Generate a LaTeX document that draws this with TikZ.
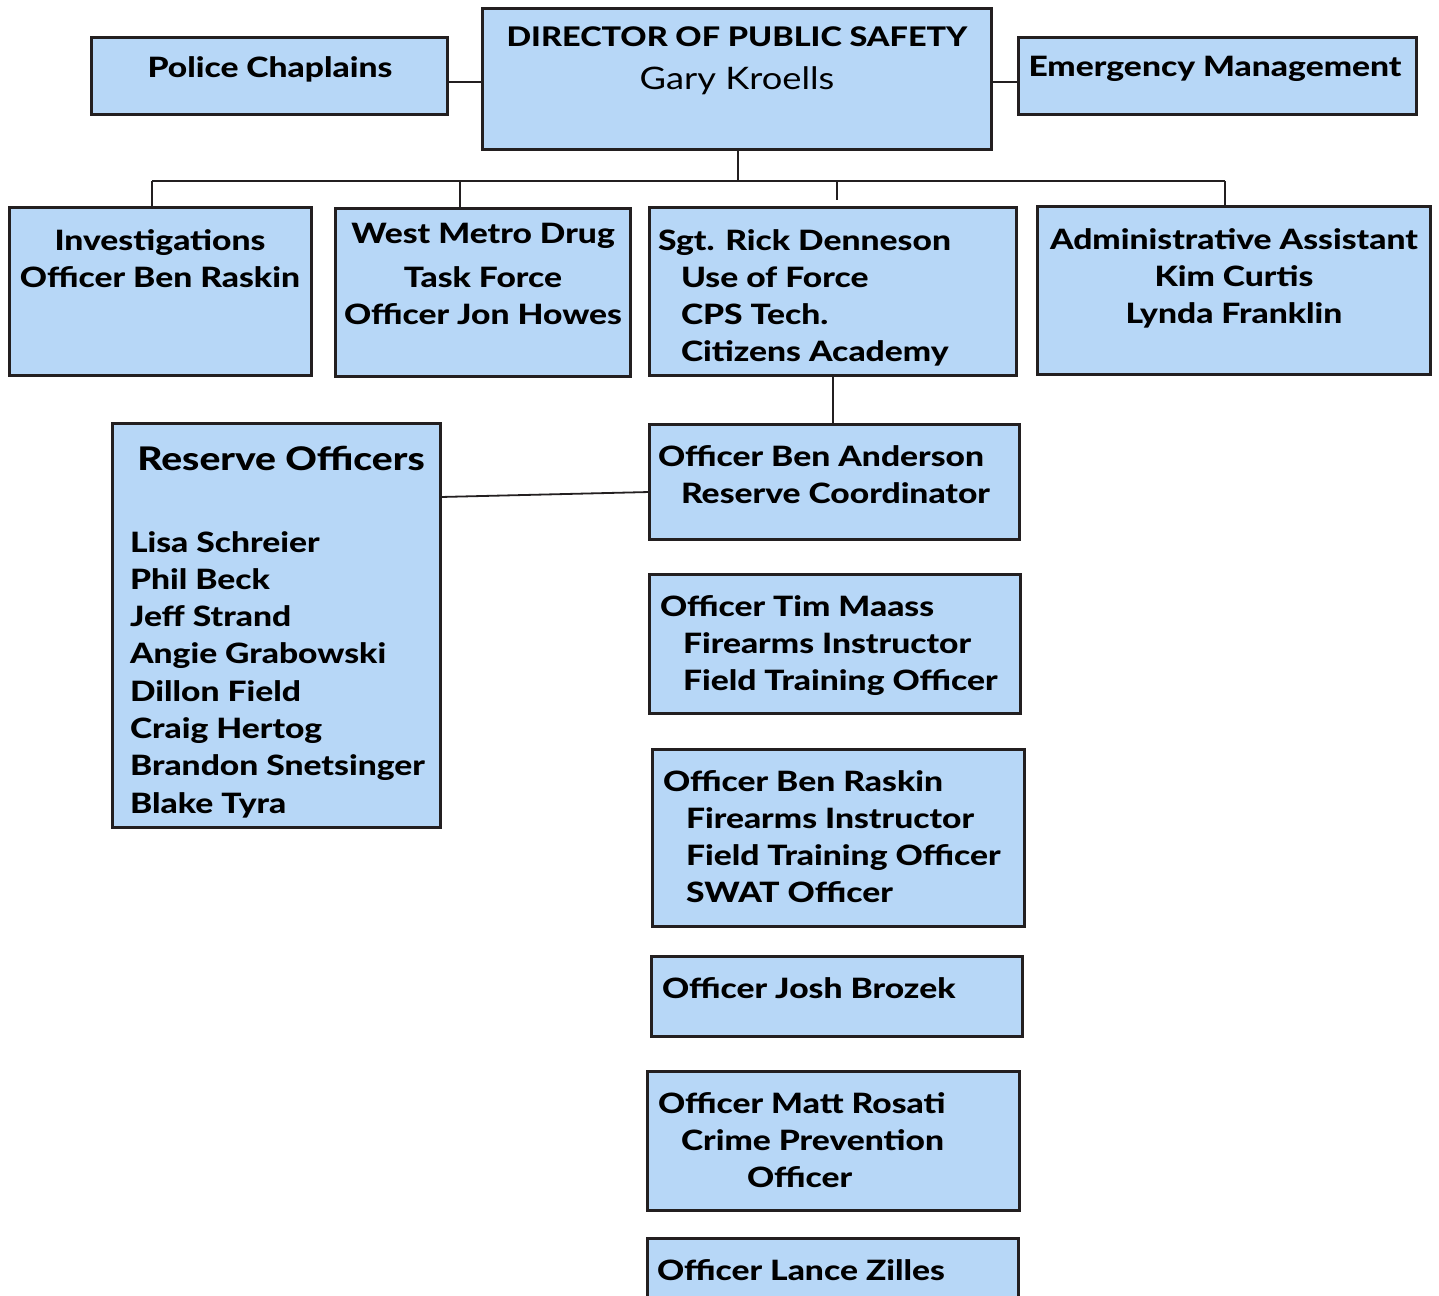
\documentclass[tikz,border=0pt]{standalone}
\usepackage{fontspec}
\setmainfont{Lato}
\IfFontExistsTF{Lato Heavy}
  {\newfontfamily\gbfam{Lato Heavy}[FakeStretch=1.2]\newcommand\gbf{\gbfam}}
  {\newfontfamily\gbfam{Lato}[FakeStretch=1.26]\newcommand\gbf{\gbfam\bfseries}}
\newfontfamily\grfam{Lato}[FakeStretch=1.17]
\definecolor{boxfill}{HTML}{B7D7F7}
\definecolor{boxline}{HTML}{231F20}
\newcommand\fl{\rule{0pt}{25pt}}
\newcommand\ind{\hspace*{23pt}}
\newcommand\orgbox[5]{\node[box, minimum width={#4-#2-3}, minimum height={#5-#3-3}] (#1) at ({(#2+#4)/2},{(#3+#5)/2}) {};}
\begin{document}
\begin{tikzpicture}[x=1pt,y=-1pt,
  box/.style={draw=boxline, line width=3pt, fill=boxfill, inner sep=0pt, outer sep=0pt},
  txt/.style={inner sep=0pt, outer sep=0pt, text=black, font=\gbf\fontsize{28}{37.3}\selectfont},
  link/.style={draw=boxline, line width=1.8pt}]
\useasboundingbox (0,0) rectangle (1439,1295);
% boxes
\orgbox{dir}{481}{7}{993}{151}
\orgbox{pc}{90}{36}{449}{116}
\orgbox{em}{1017}{36}{1418}{116}
\orgbox{inv}{8}{206}{313}{377}
\orgbox{wm}{334}{207}{632}{378}
\orgbox{sgt}{648}{206}{1018}{377}
\orgbox{adm}{1036}{205}{1432}{376}
\orgbox{res}{111}{422}{442}{829}
\orgbox{and}{648}{423}{1021}{541}
\orgbox{tim}{648}{573}{1022}{715}
\orgbox{ben}{651}{748}{1026}{928}
\orgbox{josh}{650}{955}{1024}{1038}
\orgbox{matt}{646}{1070}{1021}{1212}
\orgbox{lance}{646}{1237}{1020}{1330}
% connectors
\coordinate (bus) at (738,181);
\coordinate (busL) at (152,181);
\coordinate (busW) at (460,181);
\coordinate (busS) at (837,181);
\coordinate (busS2) at (837,200);
\coordinate (busR) at (1225,181);
\draw[link] ([yshift=-6pt]pc.east) -- ([yshift=-6pt]pc.east -| dir.west);
\draw[link] ([yshift=-6pt]em.west) -- ([yshift=-6pt]em.west -| dir.east);
\draw[link] (dir.south -| bus) -- (bus);
\draw[link] (busL) -- (busR);
\draw[link] (busL) -- (busL |- inv.north);
\draw[link] (busW) -- (busW |- wm.north);
\draw[link] (busS) -- (busS2);
\draw[link] (busR) -- (busR |- adm.north);
\draw[link] (sgt.south) -- (sgt.south |- and.north);
\draw[link] ([yshift=128.5pt]res.east) -- ([yshift=-10pt]and.west);
% texts
\node[txt, anchor=base] (pcT) at (270,78) {Police Chaplains};
\node[txt, anchor=base, font=\gbf\fontsize{27}{30}\selectfont] (dirT1) at (737,47) {DIRECTOR OF PUBLIC SAFETY};
\node[txt, anchor=base, font=\grfam\fontsize{31}{36}\selectfont] (dirT2) at (737,90) {Gary Kroells};
\node[txt, anchor=base] (emT) at (1215,77) {Emergency Management};
\node[txt, anchor=north, align=center] (invT) at (160,225) {\fl Investigations\\Officer Ben Raskin};
\node[txt, anchor=north, align=center] (wmT) at (483,218) {\fl West Metro Drug\\[6.7pt]Task Force\\Officer Jon Howes};
\node[txt, anchor=north west, align=left] (sgtT) at (658,225) {\fl Sgt. Rick Denneson\\\ind Use of Force\\\ind CPS Tech.\\\ind Citizens Academy};
\node[txt, anchor=north, align=center] (admT) at (1234,224) {\fl Administrative Assistant\\Kim Curtis\\Lynda Franklin};
\node[txt, anchor=base, font=\gbf\fontsize{32.5}{38}\selectfont] (resT) at (281,470) {Reserve Officers};
\node[txt, anchor=north west, align=left] (resN) at (130,527) {\fl Lisa Schreier\\Phil Beck\\Jeff Strand\\Angie Grabowski\\Dillon Field\\Craig Hertog\\Brandon Snetsinger\\Blake Tyra};
\node[txt, anchor=north west, align=left] (andT) at (658,441) {\fl Officer Ben Anderson\\\ind Reserve Coordinator};
\node[txt, anchor=north west, align=left] (timT) at (660,591) {\fl Officer Tim Maass\\\ind Firearms Instructor\\\ind Field Training Officer};
\node[txt, anchor=north west, align=left] (benT) at (663,766) {\fl Officer Ben Raskin\\\ind Firearms Instructor\\\ind Field Training Officer\\\ind SWAT Officer};
\node[txt, anchor=base west] (joshT) at (662,998) {Officer Josh Brozek};
\node[txt, anchor=north west, align=left] (mattT) at (658,1088) {\fl Officer Matt Rosati\\\ind Crime Prevention\\\hspace*{89pt}Officer};
\node[txt, anchor=base west] (lanceT) at (657,1280) {Officer Lance Zilles};
\end{tikzpicture}
\end{document}
